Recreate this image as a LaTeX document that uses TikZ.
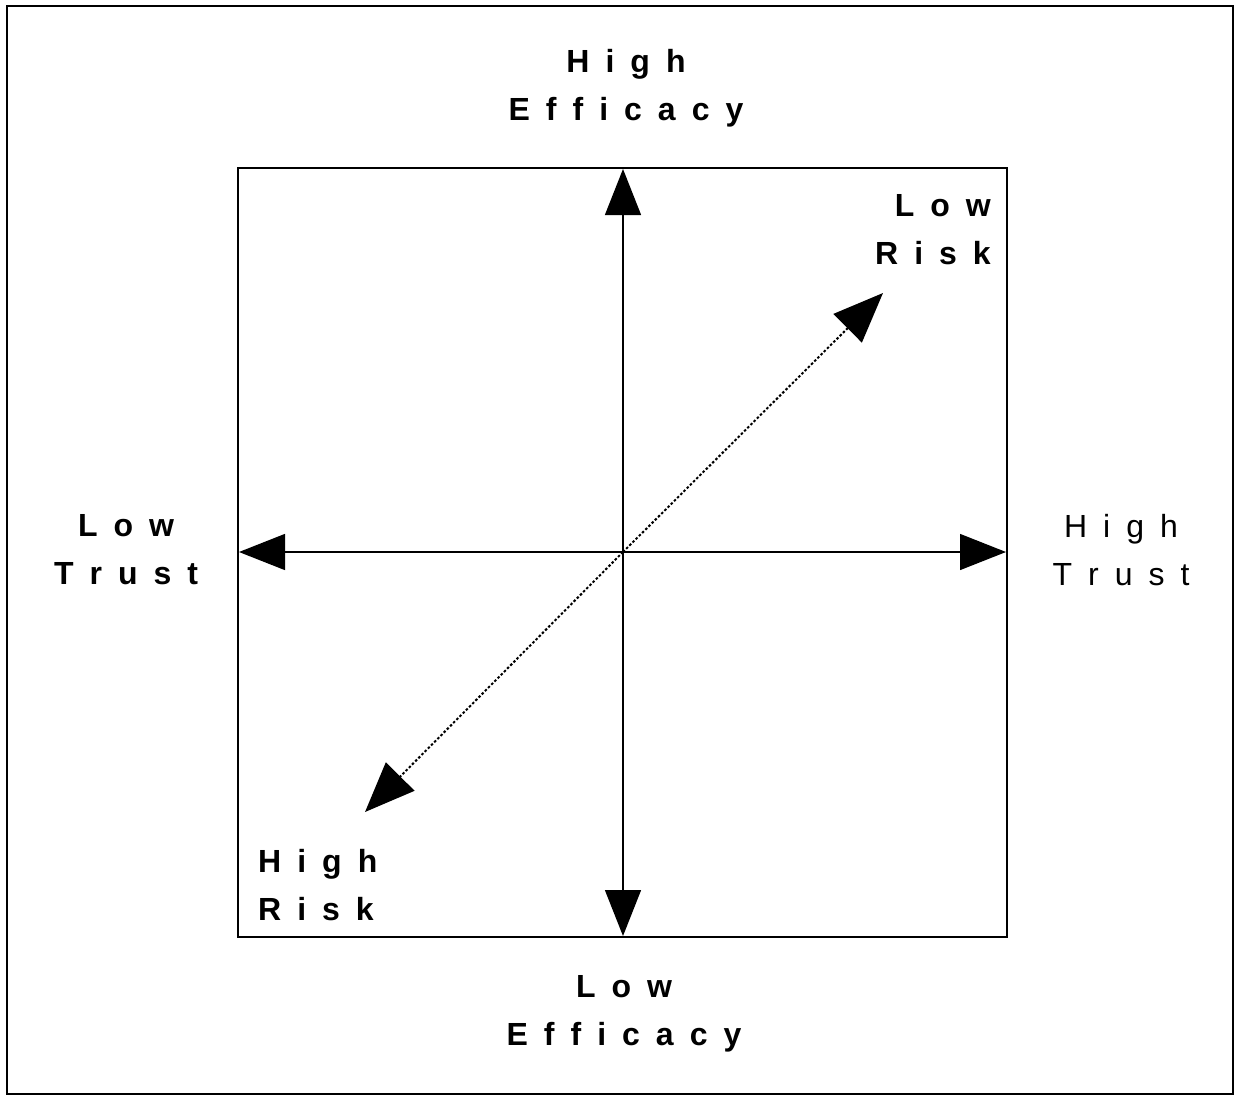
\documentclass[tikz,border=0pt]{standalone}
\usepackage{fontspec}
\setmainfont{Liberation Sans}
\usetikzlibrary{arrows.meta}
\newcommand\gp{\hspace{0.5em}}
\tikzset{
  lbl/.style={font=\fontsize{32}{48}\selectfont\bfseries, inner sep=0pt},
  lbllight/.style={font=\fontsize{32}{48}\selectfont, inner sep=0pt},
  axis/.style={line width=1.4pt, -{Triangle[length=46pt,width=36pt]}},
  diag/.style={line width=2pt, dash pattern=on 2.5pt off 2pt, -{Triangle[length=50pt,width=40pt]}},
  frame/.style={line width=2pt},
  box/.style={line width=1.3pt}
}
\begin{document}
\begin{tikzpicture}[x=1pt,y=-1pt]
\useasboundingbox (0,0) rectangle (1235,1096);
\fill[white] (0,0) rectangle (1235,1096);
\draw[frame] (7,6) rectangle (1233,1094);
\draw[box] (238,168) rectangle (1007,937);
\coordinate (c) at (623,552);
\coordinate (top) at (623,169);
\coordinate (bot) at (623,936);
\coordinate (lft) at (239,552);
\coordinate (rgt) at (1006,552);
\coordinate (ur) at (883,293);
\coordinate (ll) at (365,812);
\draw[axis] (c) -- (top);
\draw[axis] (c) -- (bot);
\draw[axis] (c) -- (lft);
\draw[axis] (c) -- (rgt);
\draw[diag] (c) -- (ur);
\draw[diag] (c) -- (ll);
\node[lbl, align=center] (hieff) at (626,88) {H\gp i\gp g\gp h\\E\gp f\gp f\gp i\gp c\gp a\gp c\gp y};
\node[lbl, align=center] (loeff) at (624,1014) {L\gp o\gp w\\E\gp f\gp f\gp i\gp c\gp a\gp c\gp y};
\node[lbl, align=center] (lotr) at (126,550) {L\gp o\gp w\\T\gp r\gp u\gp s\gp t};
\node[lbllight, align=center] (hitr) at (1121,550) {H\gp i\gp g\gp h\\T\gp r\gp u\gp s\gp t};
\node[lbl, align=right, anchor=east] (lorisk) at (991,230) {L\gp o\gp w\\R\gp i\gp s\gp k};
\node[lbl, align=left, anchor=west] (hirisk) at (258,885) {H\gp i\gp g\gp h\\R\gp i\gp s\gp k};
\end{tikzpicture}
\end{document}
